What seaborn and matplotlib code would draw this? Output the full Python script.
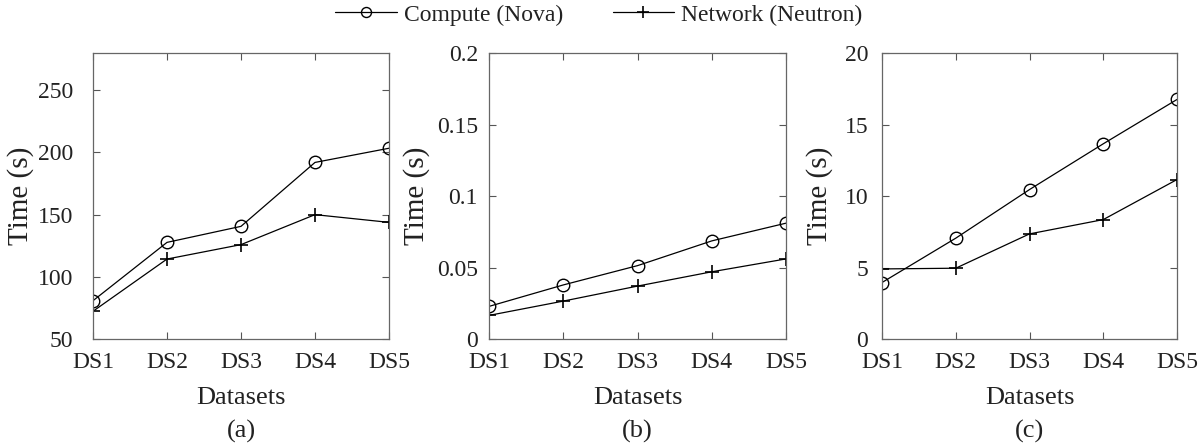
import numpy as np
import pandas as pd
import matplotlib
matplotlib.use("Agg")
import matplotlib.pyplot as plt
import seaborn as sns

# data
datasets = ["DS1", "DS2", "DS3", "DS4", "DS5"]
compute_a = [80.8, 127.7, 140.6, 192.0, 203.4]
network_a = [72.3, 114.3, 125.9, 150.0, 143.8]
compute_b = [0.0228, 0.0378, 0.0513, 0.0686, 0.0810]
network_b = [0.0165, 0.0265, 0.0370, 0.0470, 0.0560]
compute_c = [3.95, 7.05, 10.45, 13.65, 16.75]
network_c = [4.9, 4.95, 7.35, 8.35, 11.15]

panels = [
    ("(a)", compute_a, network_a, (50, 280), [50, 100, 150, 200, 250], ["50", "100", "150", "200", "250"]),
    ("(b)", compute_b, network_b, (0, 0.2), [0, 0.05, 0.1, 0.15, 0.2], ["0", "0.05", "0.1", "0.15", "0.2"]),
    ("(c)", compute_c, network_c, (0, 20), [0, 5, 10, 15, 20], ["0", "5", "10", "15", "20"]),
]

sns.set_style("ticks")
plt.rcParams["font.family"] = ["Liberation Serif", "DejaVu Serif"]

W, H = 1198, 448
fig = plt.figure(figsize=(W / 100, H / 100), dpi=100)

lefts = [93, 489, 882]
widths = [296, 297, 295]
ypads = [14, 8, 10]
ylab_x = [-0.2, -0.2, -0.165]
bottom_px, top_px = 339, 53
ax_h = bottom_px - top_px

handles = None
for (tag, comp, net, ylim, yticks, ylabels), lx, w, yp, yx in zip(panels, lefts, widths, ypads, ylab_x):
    ax = fig.add_axes([lx / W, 1 - bottom_px / H, w / W, ax_h / H])
    df = pd.DataFrame({"x": range(len(datasets)), "Compute (Nova)": comp, "Network (Neutron)": net})
    sns.lineplot(data=df, x="x", y="Compute (Nova)", ax=ax, color="black", lw=0.9,
                 marker="o", markersize=9, markerfacecolor="none", markeredgecolor="black",
                 markeredgewidth=1.0, label="Compute (Nova)", legend=False)
    sns.lineplot(data=df, x="x", y="Network (Neutron)", ax=ax, color="black", lw=0.9,
                 marker="+", markersize=10, markeredgewidth=1.2, markeredgecolor="black",
                 label="Network (Neutron)", legend=False)
    ax.set_xlim(0, 4)
    ax.set_ylim(*ylim)
    ax.set_xticks(range(len(datasets)))
    ax.set_xticklabels(datasets)
    ax.set_yticks(yticks)
    ax.set_yticklabels(ylabels)
    ax.tick_params(direction="in", top=True, right=True, labelsize=17, length=5,
                   color="#555555", width=0.8, labelcolor="#222222")
    ax.tick_params(axis="x", pad=9)
    ax.tick_params(axis="y", pad=yp)
    for s in ax.spines.values():
        s.set_color("#666666")
        s.set_linewidth(0.9)
    ax.set_ylabel("Time (s)", fontsize=21, color="#222222")
    ax.yaxis.set_label_coords(yx, 0.5)
    ax.set_xlabel("")
    ax.text(0.5, -(398 - bottom_px) / ax_h, "Datasets", transform=ax.transAxes,
            ha="center", va="center", fontsize=19, color="#222222")
    ax.text(0.5, -(431 - bottom_px) / ax_h, tag, transform=ax.transAxes,
            ha="center", va="center", fontsize=19, color="#222222")
    handles = ax.get_lines()[:2]

fig.legend(handles, ["Compute (Nova)", "Network (Neutron)"], loc="center",
           bbox_to_anchor=(0.5, 1 - 15 / H), ncol=2, frameon=False, fontsize=17,
           handlelength=2.6, columnspacing=2.1, handletextpad=0.3, markerscale=0.8,
           labelcolor="#222222")

fig.savefig("out.png", dpi=100)
